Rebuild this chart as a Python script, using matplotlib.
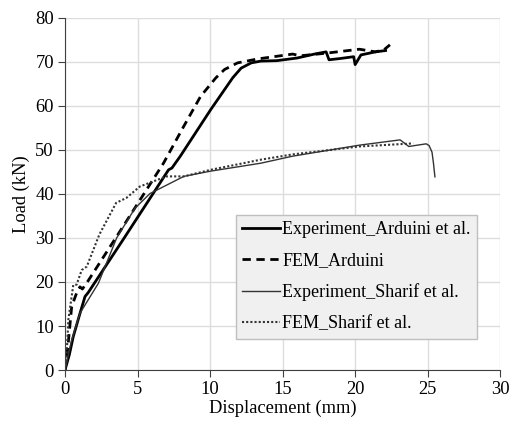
import matplotlib.pyplot as plt

plt.rcParams['font.family'] = ['Liberation Serif', 'DejaVu Serif']

# Experiment_Arduini et al.
exp_ard_x = [0, 0.3, 0.57, 1.0, 1.38, 1.6, 4.0, 7.14, 7.37, 7.95, 10.05, 11.56, 12.14, 12.84, 13.5, 14.6, 16.0, 17.2, 18.0, 18.2, 19.0, 19.9, 20.0, 20.4, 21.4, 22.1]
exp_ard_y = [0, 3.5, 7.6, 12.5, 16.7, 17.6, 29.6, 45.5, 45.9, 48.6, 59.2, 66.4, 68.6, 69.8, 70.2, 70.3, 70.9, 71.8, 72.3, 70.5, 70.8, 71.2, 69.4, 71.6, 72.3, 72.6]

# FEM_Arduini
fem_ard_x = [0, 0.2, 0.46, 0.8, 1.03, 1.2, 1.6, 3.65, 6.79, 8.19, 9.35, 10.4, 11.0, 11.9, 13.3, 15.7, 16.2, 18.0, 20.3, 21.4, 22.0, 22.4]
fem_ard_y = [0, 5.3, 14.4, 17.5, 18.9, 18.4, 20.3, 30.8, 47.0, 55.4, 62.2, 66.4, 68.3, 69.8, 70.7, 71.8, 71.4, 72.0, 72.9, 72.3, 72.8, 73.9]

# Experiment_Sharif et al.
exp_sha_x = [0, 0.2, 0.46, 1.03, 2.3, 3.56, 4.83, 5.86, 8.19, 10.05, 13.5, 15.7, 20.3, 23.1, 23.7, 24.9, 25.1, 25.3, 25.4, 25.5]
exp_sha_y = [0, 3.0, 6.8, 12.9, 19.7, 30.0, 36.8, 40.1, 44.0, 45.2, 47.0, 48.6, 51.1, 52.3, 50.8, 51.4, 51.0, 49.5, 47.0, 43.9]

# FEM_Sharif et al.
fem_sha_x = [0, 0.1, 0.23, 0.57, 0.8, 1.15, 1.5, 2.37, 3.53, 4.23, 5.16, 7.0, 8.19, 10.05, 13.5, 15.7, 20.3, 24.0]
fem_sha_y = [0, 2.4, 11.4, 19.3, 19.4, 22.7, 23.5, 30.8, 38.0, 39.1, 41.7, 44.0, 44.0, 45.5, 47.8, 49.0, 50.8, 51.5]

FS = 13.3

fig = plt.figure(figsize=(5.09, 4.28), dpi=100)
ax = fig.add_axes([0.1277, 0.1355, 0.855, 0.8225])

ax.plot(exp_ard_x, exp_ard_y, color='black', lw=2.0, label='Experiment_Arduini et al.')
ax.plot(fem_ard_x, fem_ard_y, color='black', lw=2.0, dashes=(3, 2), label='FEM_Arduini')
ax.plot(exp_sha_x, exp_sha_y, color='#333333', lw=1.0, label='Experiment_Sharif et al.')
ax.plot(fem_sha_x, fem_sha_y, color='#333333', lw=1.5, dashes=(1, 1), label='FEM_Sharif et al.')

ax.set_xlim(0, 30)
ax.set_ylim(0, 80)
ax.set_xticks(range(0, 31, 5))
ax.set_yticks(range(0, 81, 10))
ax.grid(True, color='#dddddd', lw=1.0)
ax.set_axisbelow(True)
for s in ['top', 'right']:
    ax.spines[s].set_visible(False)
for s in ['left', 'bottom']:
    ax.spines[s].set_color('#404040')
ax.tick_params(direction='out', length=5, color='#404040', labelsize=FS, pad=3)
ax.set_xlabel('Displacement (mm)', fontsize=FS, labelpad=1)
ax.set_ylabel('Load (kN)', fontsize=FS, labelpad=4)

leg = ax.legend(loc='upper left', bbox_to_anchor=(0.393, 0.44), fontsize=13,
                handlelength=2.1, handletextpad=0.1, labelspacing=0.78,
                borderaxespad=0, borderpad=0.35, fancybox=False, framealpha=1)
leg.get_frame().set_facecolor('#f0f0f0')
leg.get_frame().set_edgecolor('#bfbfbf')

fig.savefig('out.png', dpi=100)
